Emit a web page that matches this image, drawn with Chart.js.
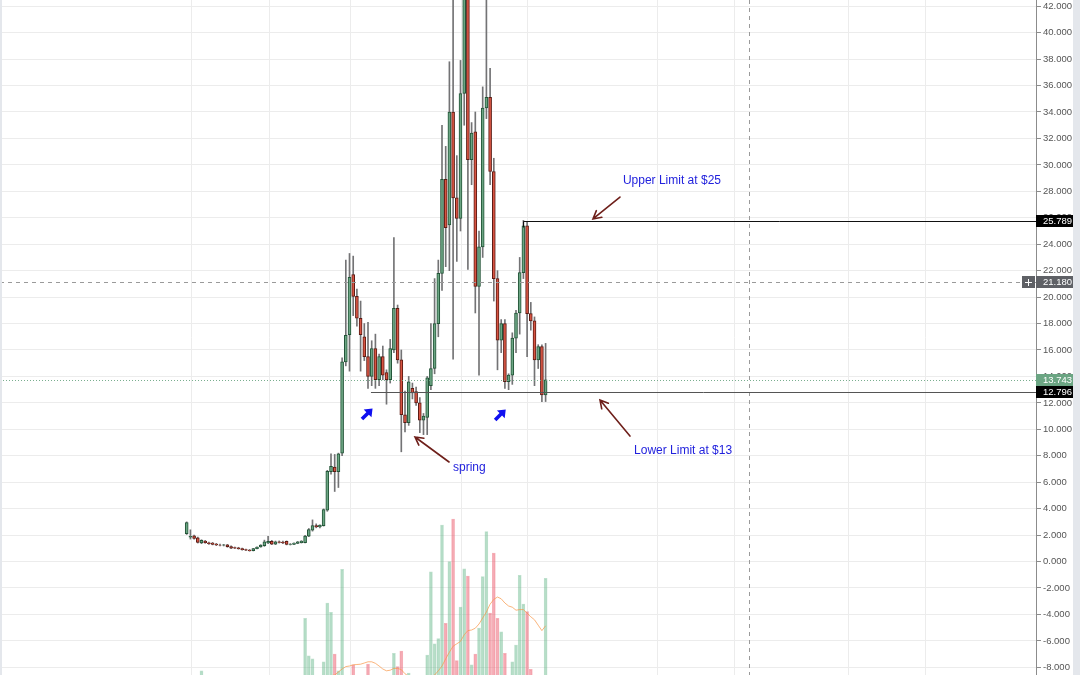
<!DOCTYPE html>
<html><head><meta charset="utf-8">
<script src="https://cdn.jsdelivr.net/npm/chart.js@4.4.0/dist/chart.umd.min.js"></script>
<style>html,body{margin:0;padding:0;background:#fff;overflow:hidden}canvas{display:block}</style>
</head><body>
<canvas id="c" width="1080" height="675"></canvas>
<script>
// ---- data (daily candles, index 0..97) ----
const opens = [2.1,1.85,1.95,1.8,1.4,1.55,1.42,1.4,1.32,1.25,1.24,1.27,1.14,1.05,1.04,0.98,0.9,0.87,0.82,0.97,
1.1,1.2,1.4,1.52,1.32,1.5,1.48,1.52,1.3,1.3,1.38,1.42,1.42,1.92,2.38,2.72,2.62,2.72,3.88,6.8,
7.15,6.8,8.2,15.1,17.15,21.7,20.05,18.4,17.0,15.5,14.0,16.1,13.75,15.5,14.3,13.75,16.0,19.15,15.25,11.1,
10.5,13.1,12.85,12.0,10.7,10.9,13.3,14.6,18.0,21.8,28.9,25.45,34.0,27.5,25.95,35.4,44.0,30.4,32.5,20.8,
23.8,34.3,35.1,29.5,21.4,16.75,18.0,13.6,14.1,16.9,18.8,21.85,25.4,18.75,18.2,15.25,16.25,12.6];
const highs = [3.0,2.4,2.0,1.85,1.65,1.6,1.48,1.45,1.38,1.32,1.3,1.3,1.18,1.1,1.08,1.02,0.95,0.92,1.0,1.12,
1.28,1.62,1.9,1.6,1.55,1.56,1.55,1.56,1.36,1.42,1.52,1.58,1.98,2.5,3.15,2.85,2.78,3.98,6.9,8.15,
8.1,8.2,15.4,22.8,23.3,23.1,20.6,19.7,18.0,18.1,16.7,17.2,15.7,16.3,14.5,16.8,24.5,19.4,16.0,12.9,
14.0,13.5,13.2,12.4,11.2,14.0,18.0,21.4,22.8,33.0,31.4,37.8,48.0,30.7,37.9,47.0,45.0,33.2,34.0,25.0,
35.9,46.0,37.3,30.5,22.0,18.3,18.3,14.2,17.3,19.0,23.0,25.8,25.7,19.6,18.5,16.4,16.4,16.5];
const lows = [2.05,1.7,1.7,1.4,1.35,1.38,1.3,1.26,1.2,1.18,1.18,1.08,0.98,0.98,0.93,0.86,0.82,0.78,0.8,0.95,
1.08,1.15,1.35,1.28,1.28,1.4,1.36,1.26,1.25,1.28,1.35,1.4,1.4,1.88,2.3,2.55,2.55,2.68,3.8,6.6,
5.3,5.6,8.0,14.8,14.4,18.6,17.8,14.4,15.2,13.1,13.3,13.1,13.3,13.75,11.9,13.5,15.8,15.0,8.3,9.8,
10.3,12.3,11.8,9.75,9.6,9.6,13.0,14.2,17.0,20.5,22.3,22.0,15.3,22.7,25.0,33.0,22.1,28.5,18.8,14.1,
23.0,33.5,28.5,19.7,14.5,15.8,13.1,13.0,13.4,15.8,17.2,21.4,15.5,17.5,13.3,14.6,12.1,12.1];
const closes = [2.95,1.9,1.75,1.45,1.6,1.42,1.36,1.3,1.25,1.24,1.26,1.12,1.02,1.02,0.97,0.9,0.86,0.82,0.98,1.1,
1.25,1.5,1.52,1.32,1.5,1.44,1.4,1.3,1.32,1.4,1.5,1.55,1.92,2.42,2.72,2.62,2.75,3.93,6.82,7.2,
6.8,8.15,15.1,17.1,21.5,20.05,18.4,17.15,15.5,14.0,16.1,13.75,15.5,14.1,13.75,16.1,19.15,15.25,11.1,10.5,
13.6,12.75,12.0,10.7,11.0,13.9,14.6,18.0,21.8,28.9,25.25,34.0,27.5,25.95,35.4,44.0,30.4,32.4,20.8,23.8,
34.3,35.1,29.5,21.4,16.75,18.0,13.6,14.1,16.9,18.8,21.85,25.4,18.75,18.2,15.25,16.25,12.6,13.743];
const volumes = [1.2,1.0,0.9,1.1,2.7,0.8,0.7,0.6,0.6,0.5,0.5,0.6,0.6,0.5,0.5,0.6,0.5,0.6,0.7,0.8,
0.8,1.0,1.2,0.9,0.8,0.7,0.7,0.8,0.6,0.7,0.9,1.0,11.45,5.2,4.7,1.5,1.6,4.2,14.0,12.45,
5.5,2.7,19.6,1.9,1.8,3.7,1.7,1.8,1.9,3.8,1.6,1.8,1.5,1.4,1.7,1.9,5.6,3.4,6.0,1.8,
2.3,1.2,1.1,1.5,1.3,5.3,19.2,7.2,8.05,27.0,10.6,20.9,28.0,4.4,13.3,19.7,18.5,3.7,5.5,9.8,
18.4,25.9,12.3,22.3,11.45,9.2,5.6,1.5,4.2,7.0,18.6,13.8,12.55,2.95,1.6,1.5,1.8,18.1];
const volumeMA = [null,null,null,null,null,null,null,null,null,null,null,null,null,null,null,null,null,null,null,1.0,
1.0,1.0,1.0,1.0,1.0,1.0,1.0,1.0,1.0,1.0,1.0,1.0,1.4,1.5,1.6,1.6,1.6,1.7,1.8,1.9,
2.0,2.5,3.0,3.4,3.5,3.7,3.75,3.8,4.0,4.2,4.2,3.95,3.5,3.0,2.7,2.8,3.1,3.1,2.9,2.2,
1.8,1.7,1.6,1.6,1.6,1.6,1.7,2.0,2.7,3.5,4.7,5.8,6.8,7.2,7.6,8.7,9.4,9.5,9.8,10.5,
11.5,12.5,13.8,14.6,15.0,14.7,14.0,13.5,13.3,12.8,12.9,12.9,12.3,11.7,11.2,10.3,9.4,10.2];
const priceTicks = [-8,-6,-4,-2,0,2,4,6,8,10,12,14,16,18,20,22,24,26,28,30,32,34,36,38,40,42];
const timeGrid = [1.43,22.51,44.14,74.27,92.24,127.11,147.92,178.73,199.81];
const upperLimit = 25.789, lowerLimit = 12.796, lastPrice = 13.743, crossPrice = 21.18, crossIdx = 151.97;

const UP = '#6ba583', UPB = '#225437', DN = '#d75442', DNB = '#5b1a13', WICK = '#737375';
const isUp = closes.map((c,i)=>c>=opens[i]);
const days = opens.map((_,i)=>i);

const overlay = {
  id:'overlay',
  beforeDraw(ch){const c=ch.ctx;c.save();c.fillStyle='#fff';c.fillRect(0,0,ch.width,ch.height);c.restore();},
  afterDatasetsDraw(ch){
    const {ctx:c, chartArea:a, scales:{x,y}} = ch;
    c.save();
    c.beginPath();c.rect(a.left,a.top,a.right-a.left,a.bottom-a.top);c.clip();
    // last price dotted
    let yy=Math.round(y.getPixelForValue(lastPrice))+0.5;
    c.strokeStyle='rgba(107,165,131,0.9)';c.lineWidth=1;c.setLineDash([1,2]);
    c.beginPath();c.moveTo(a.left,yy);c.lineTo(a.right,yy);c.stroke();
    // crosshair dashed
    c.strokeStyle='#9a9a9a';c.setLineDash([4,4]);
    yy=Math.round(y.getPixelForValue(crossPrice))+0.5;
    c.beginPath();c.moveTo(a.left,yy);c.lineTo(a.right,yy);c.stroke();
    let xx=Math.round(x.getPixelForValue(crossIdx))+0.5;
    c.beginPath();c.moveTo(xx,a.top);c.lineTo(xx,a.bottom);c.stroke();
    c.setLineDash([]);
    // limit lines
    c.strokeStyle='#111';c.lineWidth=1;
    yy=Math.round(y.getPixelForValue(upperLimit))+0.5;
    xx=Math.round(x.getPixelForValue(90.9))+0.5;
    c.beginPath();c.moveTo(xx,yy+6);c.lineTo(xx,yy);c.lineTo(a.right,yy);c.stroke();
    c.strokeStyle='#555';
    yy=Math.round(y.getPixelForValue(lowerLimit))+0.5;
    xx=x.getPixelForValue(49.8);
    c.beginPath();c.moveTo(xx,yy);c.lineTo(a.right,yy);c.stroke();
    // maroon arrows
    const arrow=(i1,p1,i2,p2)=>{
      const x1=x.getPixelForValue(i1),y1=y.getPixelForValue(p1),x2=x.getPixelForValue(i2),y2=y.getPixelForValue(p2);
      const ang=Math.atan2(y2-y1,x2-x1),L=9;
      c.strokeStyle='#6e1f1a';c.lineWidth=1.6;c.lineCap='round';
      c.beginPath();c.moveTo(x1,y1);c.lineTo(x2,y2);
      c.moveTo(x2-L*Math.cos(ang-0.5),y2-L*Math.sin(ang-0.5));c.lineTo(x2,y2);
      c.lineTo(x2-L*Math.cos(ang+0.5),y2-L*Math.sin(ang+0.5));c.stroke();
    };
    arrow(117.1,27.57,109.8,25.91);
    arrow(119.8,9.49,111.7,12.22);
    arrow(70.9,7.53,61.7,9.42);
    // blue arrows
    const blue=(i,p)=>{
      const cx=x.getPixelForValue(i),cy=y.getPixelForValue(p);
      c.save();c.translate(cx,cy);c.rotate(-Math.PI/4);
      c.fillStyle='#1010f0';
      c.beginPath();
      c.moveTo(-7,-1.8);c.lineTo(1,-1.8);c.lineTo(1,-5.5);c.lineTo(8,0);c.lineTo(1,5.5);c.lineTo(1,1.8);c.lineTo(-7,1.8);
      c.closePath();c.fill();c.restore();
    };
    blue(48.7,11.15);blue(84.7,11.08);
    // texts
    c.fillStyle='#2222dd';c.font='12px "Liberation Sans", Arial, sans-serif';c.textBaseline='middle';c.textAlign='left';
    c.fillText('Upper Limit at $25',x.getPixelForValue(117.9),y.getPixelForValue(28.78));
    c.fillText('Lower Limit at $13',x.getPixelForValue(120.9),y.getPixelForValue(8.36));
    c.fillText('spring',x.getPixelForValue(71.97),y.getPixelForValue(7.07));
    c.restore();
  },
  afterDraw(ch){
    const {ctx:c, chartArea:a, scales:{y}} = ch;
    c.save();
    c.font='9.5px "Liberation Sans", Arial, sans-serif';c.textBaseline='middle';c.textAlign='left';
    const box=(v,bg,fg)=>{
      const yy=Math.round(y.getPixelForValue(v));
      c.fillStyle=bg;c.fillRect(a.right,yy-6,37,12);
      c.fillStyle=fg;c.fillText(v.toFixed(3),a.right+7,yy+0.5);
    };
    box(upperLimit,'#000','#fff');
    box(crossPrice,'#5f6166','#fff');
    box(lastPrice,UP,'#fff');
    box(lowerLimit,'#000','#fff');
    // plus button
    const yc=Math.round(y.getPixelForValue(crossPrice));
    c.fillStyle='#5f6166';c.fillRect(a.right-14,yc-6,13,12);
    c.strokeStyle='#fff';c.lineWidth=1;c.beginPath();
    c.moveTo(a.right-11,yc+0.5);c.lineTo(a.right-4,yc+0.5);c.moveTo(a.right-7.5,yc-3);c.lineTo(a.right-7.5,yc+4);c.stroke();
    // side strips
    c.fillStyle='#e4e7ec';c.fillRect(0,0,2,ch.height);c.fillRect(1073,0,7,ch.height);
    c.restore();
  }
};

new Chart(document.getElementById('c'), {
  type:'bar',
  data:{datasets:[
    {type:'line',label:'Vol MA',yAxisID:'vol',data:days.map(i=>({x:i,y:volumeMA[i]})),borderColor:'rgba(248,150,70,0.7)',borderWidth:1,pointRadius:0,tension:0,order:9,clip:0,spanGaps:false},
    {label:'Volume',yAxisID:'vol',data:days.map(i=>({x:i,y:volumes[i]})),barThickness:3,grouped:false,
     backgroundColor:isUp.map(u=>u?'rgba(107,190,145,0.28)':'rgba(240,110,125,0.32)'),
     borderColor:isUp.map(u=>u?'rgba(100,180,135,0.42)':'rgba(235,100,115,0.5)'),borderWidth:1,borderSkipped:false,order:10,clip:0},
    {label:'Wick',yAxisID:'y',data:days.map(i=>({x:i,y:[lows[i],highs[i]]})),barThickness:1,grouped:false,backgroundColor:WICK,order:2,clip:0},
    {label:'Body',yAxisID:'y',data:days.map(i=>({x:i,y:[opens[i],closes[i]]})),barThickness:3,grouped:false,
     backgroundColor:isUp.map(u=>u?UP:DN),borderColor:isUp.map(u=>u?UPB:DNB),borderWidth:1,borderSkipped:false,order:1,clip:0}
  ]},
  options:{
    responsive:false,animation:false,devicePixelRatio:1,
    layout:{padding:0,autoPadding:false},
    plugins:{legend:{display:false},tooltip:{enabled:false}},
    scales:{
      x:{type:'linear',offset:false,min:-50.46,max:229.54,position:'bottom',
         afterBuildTicks:s=>{s.ticks=timeGrid.map(v=>({value:v}));},
         afterFit:s=>{s.height=0;s.paddingLeft=0;s.paddingRight=0;},
         ticks:{display:false},grid:{color:'#ececec',drawTicks:false,offset:false},border:{display:false}},
      y:{position:'right',min:-8.58,max:42.47,
         afterBuildTicks:s=>{s.ticks=priceTicks.map(v=>({value:v}));},
         afterFit:s=>{s.width=44;s.paddingTop=0;s.paddingBottom=0;},
         ticks:{callback:v=>Number(v).toFixed(3),color:'#555',padding:2,font:{family:'"Liberation Sans", Arial, sans-serif',size:9.5}},
         grid:{color:'#ececec',tickColor:'#8c8c8c',tickLength:5},border:{display:true,color:'#8c8c8c'}},
      vol:{display:false,min:2,max:114.5}
    }
  },
  plugins:[overlay]
});
</script>
</body></html>
